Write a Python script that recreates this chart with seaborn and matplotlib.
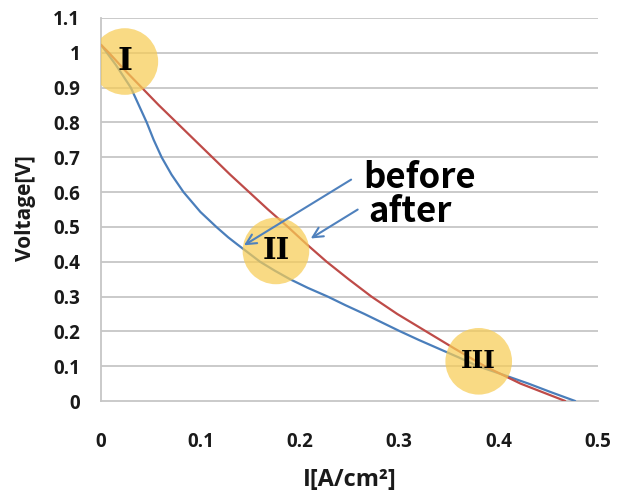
import matplotlib

matplotlib.use("Agg")
import matplotlib.pyplot as plt
import pandas as pd
import seaborn as sns

# I-V curves
current_before = [0, 0.006, 0.015, 0.03, 0.038, 0.046, 0.053, 0.061, 0.071, 0.083, 0.1,
                  0.116, 0.128, 0.137, 0.16, 0.175, 0.19, 0.208, 0.228, 0.246, 0.265,
                  0.283, 0.301, 0.32, 0.34, 0.36, 0.379, 0.405, 0.43, 0.453, 0.477]
voltage_before = [1.023, 1.0, 0.965, 0.9, 0.85, 0.8, 0.75, 0.7, 0.65, 0.6, 0.543,
                  0.5, 0.47, 0.45, 0.4, 0.374, 0.35, 0.325, 0.3, 0.275, 0.25,
                  0.225, 0.2, 0.175, 0.15, 0.125, 0.1, 0.075, 0.05, 0.025, 0.0]

current_after = [0, 0.008, 0.024, 0.041, 0.058, 0.076, 0.094, 0.112, 0.13, 0.149, 0.168,
                 0.188, 0.207, 0.227, 0.249, 0.272, 0.298, 0.327, 0.356, 0.386, 0.422, 0.467]
voltage_after = [1.023, 1.0, 0.95, 0.9, 0.85, 0.8, 0.75, 0.7, 0.65, 0.6, 0.55,
                 0.5, 0.45, 0.4, 0.35, 0.3, 0.25, 0.2, 0.15, 0.1, 0.05, 0.0]

# highlighted regions
region_labels = ["I", "II", "III"]
region_x = [0.024, 0.176, 0.380]
region_y = [0.975, 0.431, 0.114]

x_ticks = [0, 0.1, 0.2, 0.3, 0.4, 0.5]
x_tick_labels = ["0", "0.1", "0.2", "0.3", "0.4", "0.5"]
y_ticks = [0, 0.1, 0.2, 0.3, 0.4, 0.5, 0.6, 0.7, 0.8, 0.9, 1.0, 1.1]
y_tick_labels = ["0", "0.1", "0.2", "0.3", "0.4", "0.5", "0.6", "0.7", "0.8", "0.9", "1", "1.1"]

before_df = pd.DataFrame({"current": current_before, "voltage": voltage_before})
after_df = pd.DataFrame({"current": current_after, "voltage": voltage_after})
regions_df = pd.DataFrame({"current": region_x, "voltage": region_y})

sns.set_style("white")
plt.rcParams["font.family"] = ["Open Sans", "DejaVu Sans"]

BLUE = "#4a7ebb"
RED = "#be4b48"
GRID = "#c6c6c6"

fig = plt.figure(figsize=(6.25, 4.94), dpi=100)
ax = fig.add_axes((101 / 625, 1 - 401 / 494, 497 / 625, 383 / 494))

for y in y_ticks[1:]:
    _ = ax.axhline(y, color=GRID, lw=1.3, zorder=0)

_ = sns.lineplot(data=before_df, x="current", y="voltage", color=BLUE, lw=1.6,
                 sort=False, estimator=None, ax=ax, zorder=3)
_ = sns.lineplot(data=after_df, x="current", y="voltage", color=RED, lw=1.6,
                 sort=False, estimator=None, ax=ax, zorder=3)

_ = sns.scatterplot(data=regions_df, x="current", y="voltage", s=2300, color="#f7cc55",
                    alpha=0.72, edgecolor="none", ax=ax, zorder=4, legend=False)
numeral_sizes = [23, 21, 18]
for lab, xx, yy, fs in zip(region_labels, region_x, region_y, numeral_sizes):
    _ = ax.text(xx, yy, lab, ha="center", va="center", fontsize=fs, fontweight="bold",
                family="DejaVu Serif", color="black", zorder=5)

# annotations
arrow_style = dict(arrowstyle="->", color="#4f81bd", lw=1.5, mutation_scale=18)
_ = ax.annotate("", xy=(0.1415, 0.443), xytext=(0.254, 0.64), arrowprops=arrow_style, zorder=6)
_ = ax.annotate("", xy=(0.2086, 0.4626), xytext=(0.2606, 0.554), arrowprops=arrow_style, zorder=6)
_ = ax.text(0.264, 0.612, "before", ha="left", va="baseline", fontsize=25, fontweight="bold",
            family=["Noto Sans CJK KR", "DejaVu Sans"], color="black", zorder=6)
_ = ax.text(0.269, 0.514, "after", ha="left", va="baseline", fontsize=25, fontweight="bold",
            family=["Noto Sans CJK KR", "DejaVu Sans"], color="black", zorder=6)

_ = ax.set_xlim(0, 0.5)
_ = ax.set_ylim(0, 1.1)
_ = ax.set_xticks(x_ticks, x_tick_labels)
_ = ax.set_yticks(y_ticks, y_tick_labels)
ax.tick_params(axis="both", length=0, labelsize=13.5, colors="#1a1a1a")
ax.tick_params(axis="x", pad=22)
ax.tick_params(axis="y", pad=15)
for lab in ax.get_xticklabels() + ax.get_yticklabels():
    lab.set_fontweight("bold")

for side in ["top", "right"]:
    ax.spines[side].set_visible(False)
for side in ["left", "bottom"]:
    ax.spines[side].set_color(GRID)
    ax.spines[side].set_linewidth(1.3)

_ = ax.set_xlabel("I[A/cm²]", fontsize=17, fontweight="bold", va="center", color="#1a1a1a")
_ = ax.set_ylabel("Voltage[V]", fontsize=15, fontweight="bold", va="center", color="#1a1a1a")
ax.xaxis.set_label_coords(0.5, -0.206)
ax.yaxis.set_label_coords(-0.151, 0.504)

fig.savefig("out.png", dpi=100)
